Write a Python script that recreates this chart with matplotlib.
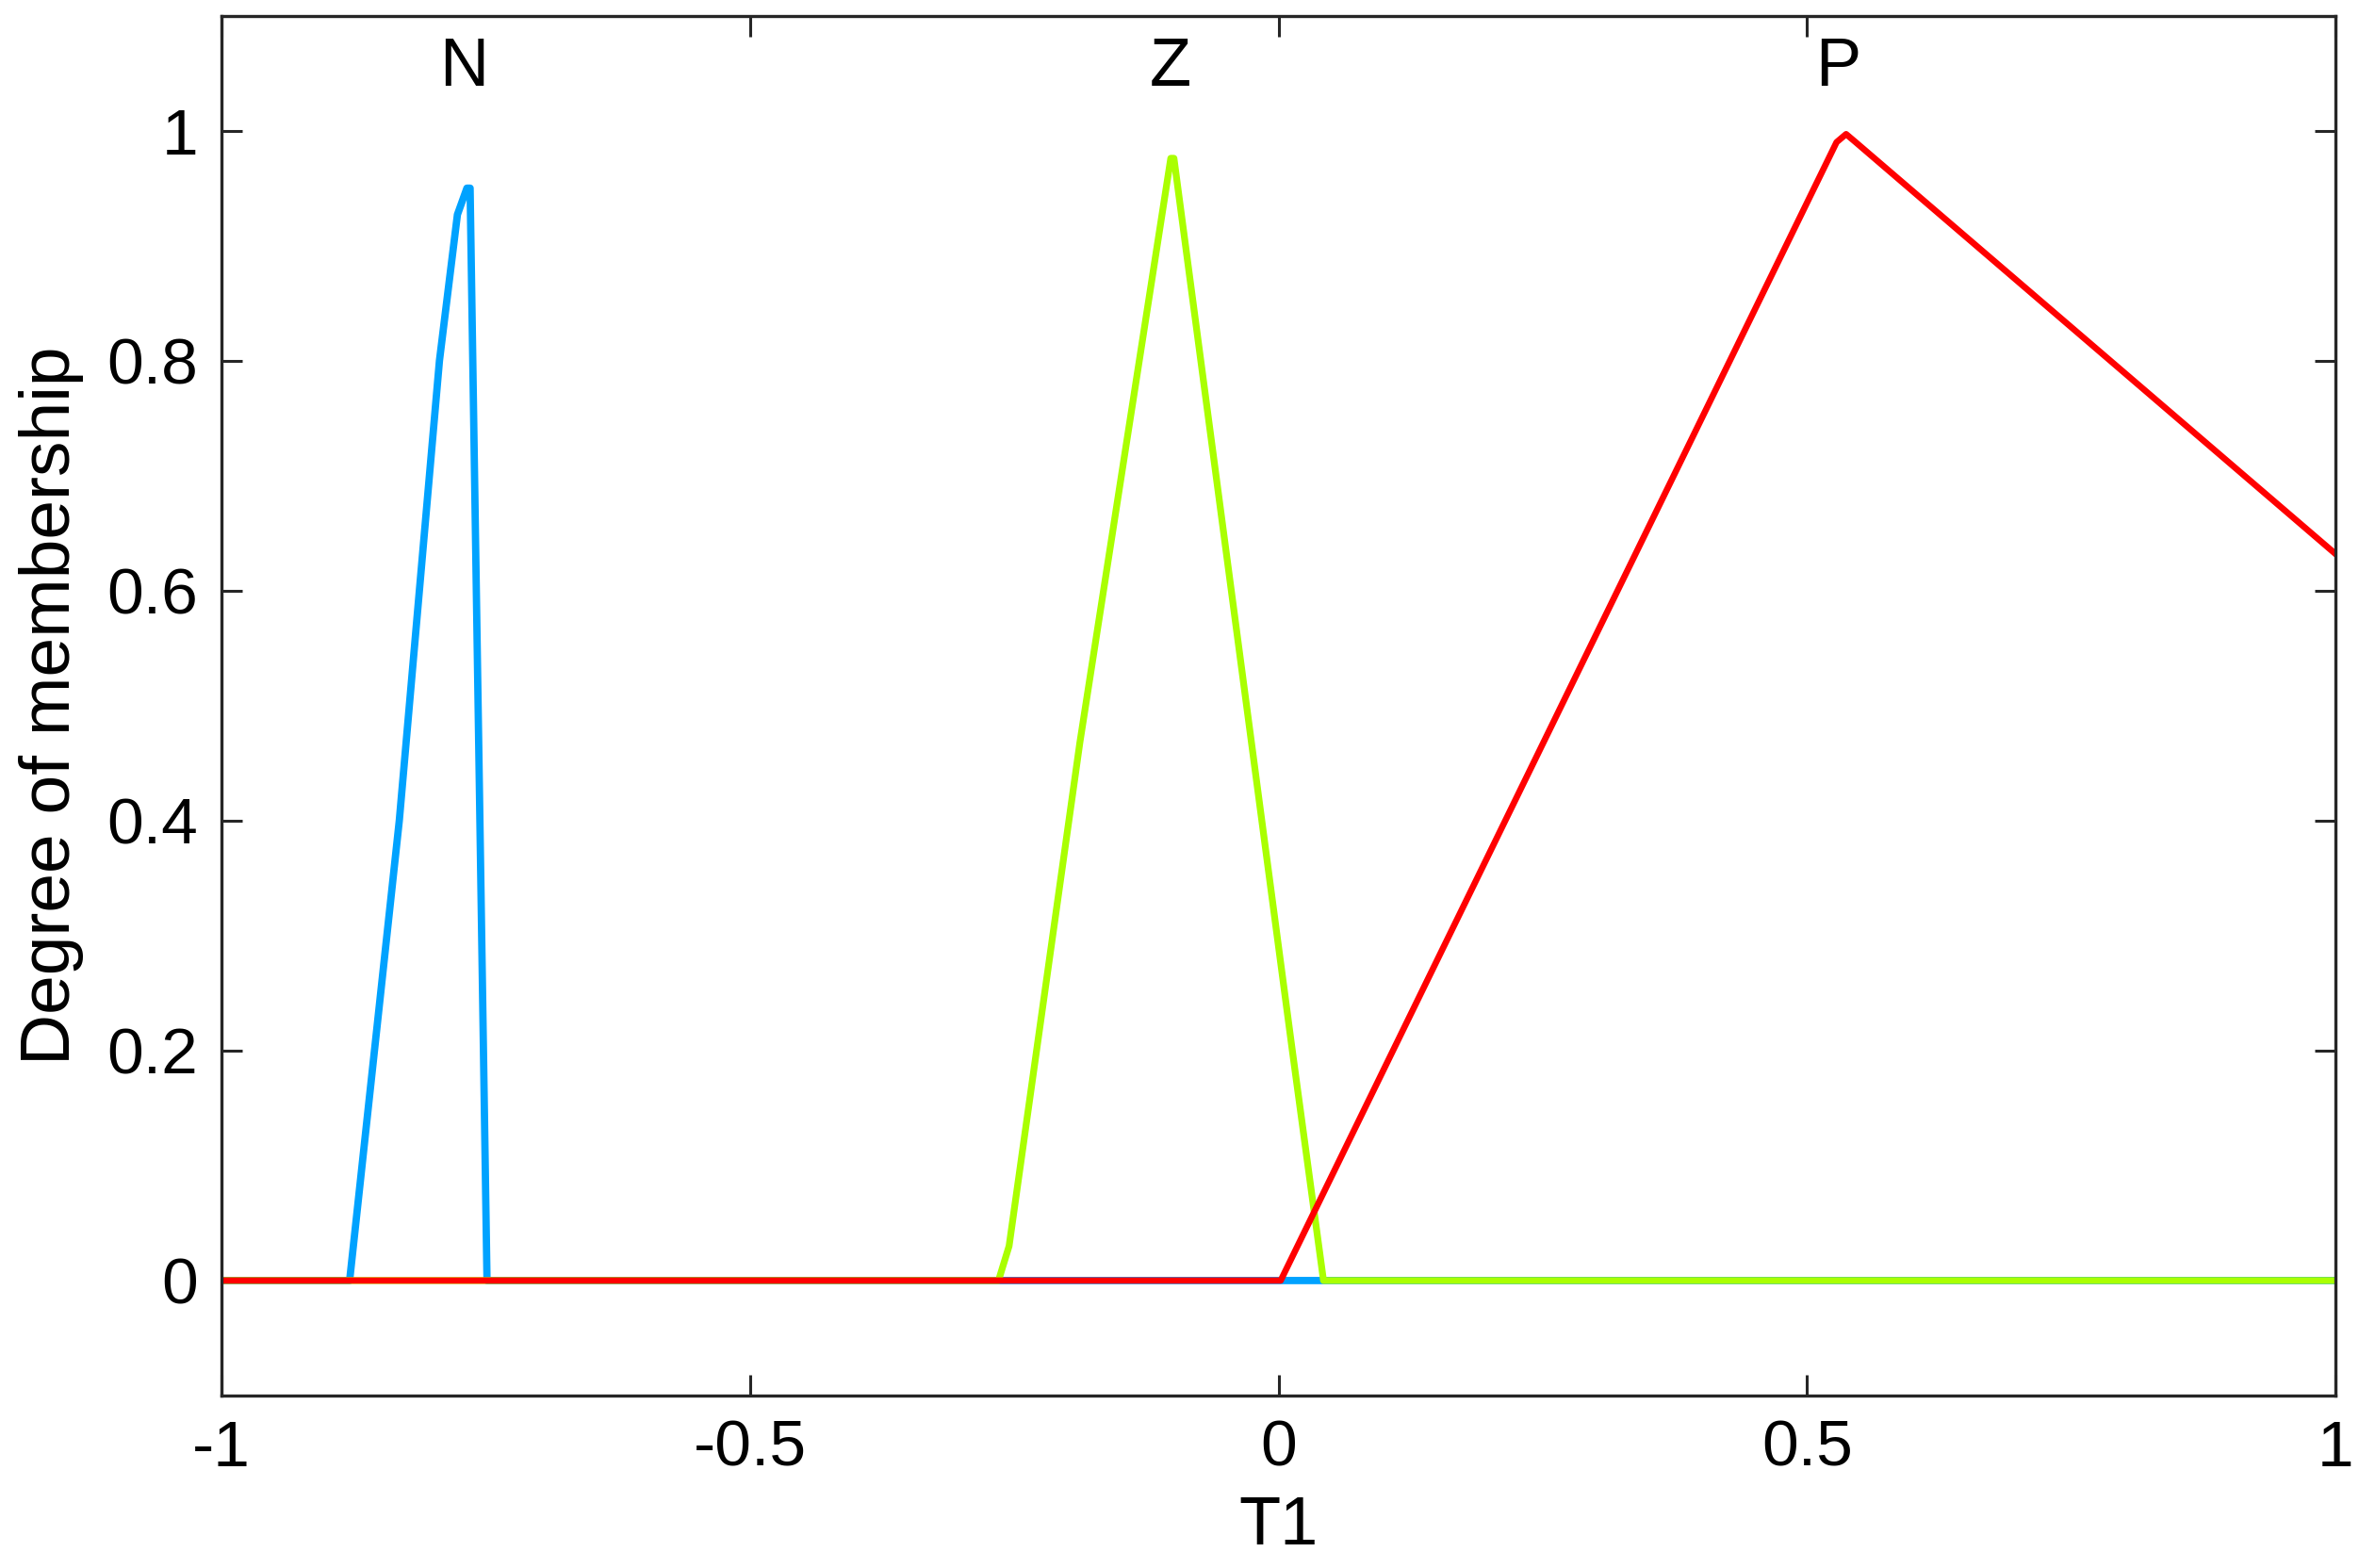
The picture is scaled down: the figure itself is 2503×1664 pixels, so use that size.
import numpy as np
import matplotlib.pyplot as plt

plt.rcParams['font.family'] = ['Liberation Sans', 'DejaVu Sans']

# membership function vertices
n_x = [-1, -0.879, -0.832, -0.794, -0.777, -0.768, -0.765, -0.749, 1]
n_y = [0, 0, 0.40, 0.80, 0.927, 0.95, 0.95, 0, 0]
z_x = [-1, -0.265, -0.255, -0.188, -0.102, -0.099, 0.013, 0.0425, 1]
z_y = [0, 0, 0.03, 0.468, 0.976, 0.976, 0.2, 0, 0]
p_x = [-1, 0.002, 0.528, 0.537, 0.546, 1]
p_y = [0, 0, 0.99, 0.997, 0.99, 0.632]

mf_names = ['N', 'Z', 'P']
mf_peaks = [-0.771, -0.102, 0.529]

xticks = [-1, -0.5, 0, 0.5, 1]
yticks = [0, 0.2, 0.4, 0.6, 0.8, 1]


def draw():
    fig = plt.figure(figsize=(25.03, 16.64), dpi=100)
    ax = fig.add_axes([0.094, 0.110, 0.896, 0.880])

    ax.plot(n_x, n_y, color='#00a2ff', lw=5.6)
    ax.plot(z_x, z_y, color='#aaff00', lw=5.2)
    ax.plot(p_x, p_y, color='#ff0000', lw=4.8)

    for name, xp in zip(mf_names, mf_peaks):
        ax.text(xp, 1.054, name, ha='center', va='center', fontsize=52)

    ax.set_xlim(-1, 1)
    ax.set_ylim(-0.1, 1.1)
    ax.set_xticks(xticks)
    ax.set_xticklabels(['-1', '-0.5', '0', '0.5', '1'])
    ax.set_yticks(yticks)
    ax.set_yticklabels(['0', '0.2', '0.4', '0.6', '0.8', '1'])
    ax.tick_params(direction='in', length=16, width=2.2, labelsize=50,
                   top=True, right=True, pad=18, color='#262626')
    for s in ax.spines.values():
        s.set_linewidth(2.4)
        s.set_color('#262626')

    ax.set_xlabel('T1', fontsize=52, labelpad=12)
    ax.set_ylabel('Degree of membership', fontsize=54, labelpad=18)

    fig.savefig('out.png', dpi=100)
    plt.close(fig)


if __name__ == '__main__':
    draw()
